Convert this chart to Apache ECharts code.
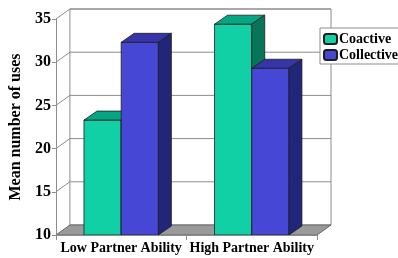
<!DOCTYPE html>
<html>
<head>
<meta charset="utf-8">
<script src="https://cdn.jsdelivr.net/npm/echarts@6/dist/echarts.min.js"></script>
<style>
  html, body { margin: 0; padding: 0; background: #fff; }
  #grafica { width: 398px; height: 258px; }
</style>
</head>
<body>
<div id="grafica"></div>
<script>
const categories = ["Low Partner Ability", "High Partner Ability"];
const coactive = [23.3, 34.4];
const collective = [32.3, 29.3];
const yTicks = [10, 15, 20, 25, 30, 35];
const yMin = 10;
const yMax = 35;

// profundidad del "3D"
const wallDx = 14, wallDy = -10;
const barDx = 13, barDy = -9;
const gris = "#8c8c8c";
const fuente = "Liberation Serif";

const coloresCoactive = { front: "#12d0a6", top: "#05a482", side: "#067558" };
const coloresCollective = { front: "#4747d6", top: "#3535a8", side: "#22267a" };

const renderFrame = (params, api) => {
  const cs = params.coordSys;
  const v = api.value(0);
  const p = api.coord([0, v]);
  const x0 = cs.x, x1 = cs.x + cs.width, y = p[1];
  const children = [];
  if (v === yMin) {
    const yTop = api.coord([0, yMax])[1];
    // pared del fondo
    children.push({
      type: "polygon",
      shape: { points: [[x0 + wallDx, yTop + wallDy], [x1 + wallDx, yTop + wallDy], [x1 + wallDx, y + wallDy], [x0 + wallDx, y + wallDy]] },
      style: { fill: "#fff", stroke: gris, lineWidth: 1 }
    });
    // piso
    children.push({
      type: "polygon",
      shape: { points: [[x0, y], [x1, y], [x1 + wallDx, y + wallDy], [x0 + wallDx, y + wallDy]] },
      style: { fill: "#9a9a9a", stroke: "#666", lineWidth: 1 }
    });
  } else {
    children.push({
      type: "line",
      shape: { x1: x0, y1: y, x2: x0 + wallDx, y2: y + wallDy },
      style: { stroke: gris, lineWidth: 1 }
    });
    children.push({
      type: "line",
      shape: { x1: x0 + wallDx, y1: y + wallDy, x2: x1 + wallDx, y2: y + wallDy },
      style: { stroke: gris, lineWidth: 1 }
    });
  }
  return { type: "group", children };
};

const renderBar = (idx, col) => (params, api) => {
  const cat = api.value(0), val = api.value(1);
  const top = api.coord([cat, val]);
  const base = api.coord([cat, yMin]);
  const w = api.size([1, 0])[0] * 0.285;
  const x0 = idx === 0 ? top[0] - w : top[0];
  const x1 = x0 + w;
  const yt = top[1], yb = base[1];
  const borde = { stroke: "#1e1e1e", lineWidth: 0.8, lineJoin: "round" };
  return {
    type: "group",
    children: [
      { type: "rect", shape: { x: x0, y: yt, width: w, height: yb - yt }, style: Object.assign({ fill: col.front }, borde) },
      { type: "polygon", shape: { points: [[x0, yt], [x1, yt], [x1 + barDx, yt + barDy], [x0 + barDx, yt + barDy]] }, style: Object.assign({ fill: col.top }, borde) },
      { type: "polygon", shape: { points: [[x1, yt], [x1 + barDx, yt + barDy], [x1 + barDx, yb + barDy], [x1, yb]] }, style: Object.assign({ fill: col.side }, borde) }
    ]
  };
};

const chart = echarts.init(document.querySelector("#grafica"), null, { renderer: "canvas" });
chart.setOption({
  animation: false,
  backgroundColor: "#fff",
  grid: { left: 53, right: 81, top: 19, bottom: 23 },
  legend: {
    data: ["Coactive", "Collective"],
    orient: "vertical",
    left: 320,
    top: 28,
    backgroundColor: "#fff",
    borderColor: gris,
    borderWidth: 1,
    borderRadius: 0,
    padding: [4, 4, 2, 3],
    itemGap: 2,
    itemWidth: 13,
    itemHeight: 10,
    z: 10,
    textStyle: { fontFamily: fuente, fontWeight: "bold", fontSize: 14, color: "#000", padding: [0, 0, 0, -3] }
  },
  xAxis: {
    type: "category",
    data: categories,
    axisLine: { lineStyle: { color: gris } },
    axisTick: { show: true, length: 5, lineStyle: { color: gris } },
    axisLabel: { interval: 0, margin: 6, fontFamily: fuente, fontWeight: "bold", fontSize: 14, color: "#000" },
    splitLine: { show: false },
    z: 5
  },
  yAxis: {
    type: "value",
    min: yMin,
    max: yMax,
    interval: 5,
    name: "Mean number of uses",
    nameLocation: "middle",
    nameRotate: 90,
    nameGap: 26,
    nameTextStyle: { fontFamily: fuente, fontWeight: "bold", fontSize: 16, color: "#000" },
    axisLine: { show: true, lineStyle: { color: gris } },
    axisTick: { show: true, length: 4, lineStyle: { color: gris } },
    axisLabel: { margin: 5, fontFamily: fuente, fontWeight: "bold", fontSize: 16, color: "#000" },
    splitLine: { show: false },
    z: 5
  },
  series: [
    {
      name: "frame",
      type: "custom",
      z: 1,
      silent: true,
      renderItem: renderFrame,
      data: yTicks.map((t) => [t]),
      encode: { y: 0 }
    },
    {
      name: "Coactive",
      type: "custom",
      z: 2,
      itemStyle: { color: coloresCoactive.front, borderColor: "#1e1e1e", borderWidth: 1 },
      renderItem: renderBar(0, coloresCoactive),
      data: coactive.map((v, i) => [i, v]),
      encode: { x: 0, y: 1 }
    },
    {
      name: "Collective",
      type: "custom",
      z: 3,
      itemStyle: { color: coloresCollective.front, borderColor: "#1e1e1e", borderWidth: 1 },
      renderItem: renderBar(1, coloresCollective),
      data: collective.map((v, i) => [i, v]),
      encode: { x: 0, y: 1 }
    }
  ]
});
</script>
</body>
</html>
